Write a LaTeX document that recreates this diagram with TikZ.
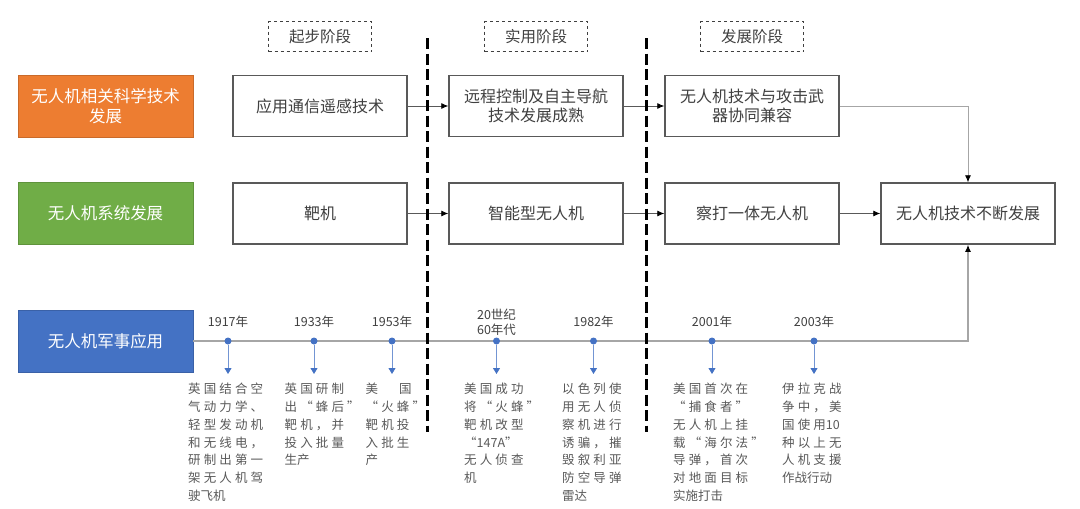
\documentclass[tikz,border=0pt]{standalone}
\usepackage{fontspec}
\setmainfont{Noto Sans CJK SC}
\newfontfamily\descfont[LetterSpace=25]{Noto Sans CJK SC}
\usetikzlibrary{arrows.meta,positioning}
\definecolor{SciClr}{HTML}{ED7D31}
\definecolor{SysClr}{HTML}{70AD47}
\definecolor{MilClr}{HTML}{4472C4}
\definecolor{TxtClr}{HTML}{404040}
\definecolor{BoxClr}{HTML}{595959}
\definecolor{LineClr}{HTML}{A6A6A6}
\definecolor{DescClr}{HTML}{595959}

\tikzset{
  catbox/.style={minimum width=175pt,minimum height=62pt,inner sep=0pt,align=center,
    text=white,font=\fontsize{16.5}{19.5}\selectfont},
  stagebox/.style={draw=TxtClr,dashed,line width=1.1pt,minimum width=103pt,minimum height=30pt,
    inner sep=0pt,text=TxtClr,font=\fontsize{15.5}{18}\selectfont},
  box/.style={draw=BoxClr,line width=1.5pt,fill=white,minimum width=174pt,minimum height=61pt,
    inner sep=0pt,align=center,text=TxtClr,font=\fontsize{16}{19.5}\selectfont},
  conn/.style={draw=BoxClr,line width=0.8pt,-{Latex[color=black,length=7pt,width=6pt]}},
  tline/.style={draw=LineClr,line width=1.2pt,-{Latex[color=black,length=7pt,width=6pt]}},
  sep/.style={line width=3pt,dash pattern=on 11pt off 4.5pt},
  dot/.style={circle,fill=MilClr,inner sep=0pt,minimum size=7pt},
  evarr/.style={draw=MilClr!75!white,line width=0.8pt,-{Triangle[color=MilClr,length=6pt,width=7pt]}},
  yr/.style={inner sep=0pt,align=center,text=TxtClr,font=\fontsize{12.5}{15}\selectfont},
  desc/.style={anchor=north west,inner sep=0pt,align=left,text=DescClr,
    font=\descfont\fontsize{12.5}{17.8}\selectfont}
}

\begin{document}
\begin{tikzpicture}[x=1pt,y=-1pt]
\useasboundingbox (0,0) rectangle (1080,509);

\node[catbox,fill=SciClr,draw=SciClr!85!black,line width=0.6pt] (sci) at (105.5,106) {无人机相关科学技术\\发展};
\node[catbox,fill=SysClr,draw=SysClr!85!black,line width=0.6pt] (sys) at (105.5,213.5) {无人机系统发展};
\node[catbox,fill=MilClr,draw=MilClr!85!black,line width=0.6pt] (mil) at (105.5,341) {无人机军事应用};

\node[stagebox] (stage1) at (320,36.5) {起步阶段};
\node[stagebox] (stage2) at (536,36.5) {实用阶段};
\node[stagebox] (stage3) at (752,36.5) {发展阶段};

\node[box] (tech1) at (320,106) {应用通信遥感技术};
\node[box] (tech2) at (536,106) {远程控制及自主导航\\技术发展成熟};
\node[box] (tech3) at (752,106) {无人机技术与攻击武\\器协同兼容};

\node[box] (sys1) at (320,213.5) {靶机};
\node[box] (sys2) at (536,213.5) {智能型无人机};
\node[box] (sys3) at (752,213.5) {察打一体无人机};
\node[box] (final) at (968,213.5) {无人机技术不断发展};

\draw[conn] (tech1) -- (tech2);
\draw[conn] (tech2) -- (tech3);
\draw[conn] (sys1) -- (sys2);
\draw[conn] (sys2) -- (sys3);
\draw[conn] (sys3) -- (final);
\draw[conn,draw=LineClr] (tech3.east) -| (final.north);
\draw[tline] (mil.east) -| (final.south);

\draw[sep] (427,38) -- (427,432);
\draw[sep] (646,38) -- (646,432);

\node[dot] (ev1) at (228,341) {};
\node[dot] (ev2) at (314,341) {};
\node[dot] (ev3) at (392,341) {};
\node[dot] (ev4) at (496.5,341) {};
\node[dot] (ev5) at (593.5,341) {};
\node[dot] (ev6) at (712,341) {};
\node[dot] (ev7) at (814,341) {};

\node[yr] (yr1) at (228,322) {1917年};
\node[yr] (yr2) at (314,322) {1933年};
\node[yr] (yr3) at (392,322) {1953年};
\node[yr] (yr4) at (496.5,322.5) {20世纪\\60年代};
\node[yr] (yr5) at (593.5,322) {1982年};
\node[yr] (yr6) at (712,322) {2001年};
\node[yr] (yr7) at (814,322) {2003年};

\coordinate (tip1) at (228,374);
\coordinate (tip2) at (314,374);
\coordinate (tip3) at (392,374);
\coordinate (tip4) at (496.5,374);
\coordinate (tip5) at (593.5,374);
\coordinate (tip6) at (712,374);
\coordinate (tip7) at (814,374);
\draw[evarr] (ev1) -- (tip1);
\draw[evarr] (ev2) -- (tip2);
\draw[evarr] (ev3) -- (tip3);
\draw[evarr] (ev4) -- (tip4);
\draw[evarr] (ev5) -- (tip5);
\draw[evarr] (ev6) -- (tip6);
\draw[evarr] (ev7) -- (tip7);

\node[desc] (de1) at (188,383) {英国结合空\\气动力学、\\轻型发动机\\和无线电，\\研制出第一\\架无人机驾\\{\rmfamily 驶飞机}};
\node[desc] (de2) at (284.5,383) {英国研制\\出“蜂后”\\靶机，并\\投入批量\\{\rmfamily 生产}};
\node[desc] (de3) at (365.5,383) {美\hspace{21pt}国\\“火蜂”\\靶机投\\入批生\\{\rmfamily 产}};
\node[desc] (de4) at (464,383) {美国成功\\将“火蜂”\\靶机改型\\“{\rmfamily 147A}”\\无人侦查\\{\rmfamily 机}};
\node[desc] (de5) at (562,383) {以色列使\\用无人侦\\察机进行\\诱骗，摧\\毁叙利亚\\防空导弹\\{\rmfamily 雷达}};
\node[desc] (de6) at (673,383) {美国首次在\\“捕食者”\\无人机上挂\\载“海尔法”\\导弹，首次\\对地面目标\\{\rmfamily 实施打击}};
\node[desc] (de7) at (782,383) {伊拉克战\\争中，美\\国使用{\rmfamily 10}\\种以上无\\人机支援\\{\rmfamily 作战行动}};

\end{tikzpicture}
\end{document}
